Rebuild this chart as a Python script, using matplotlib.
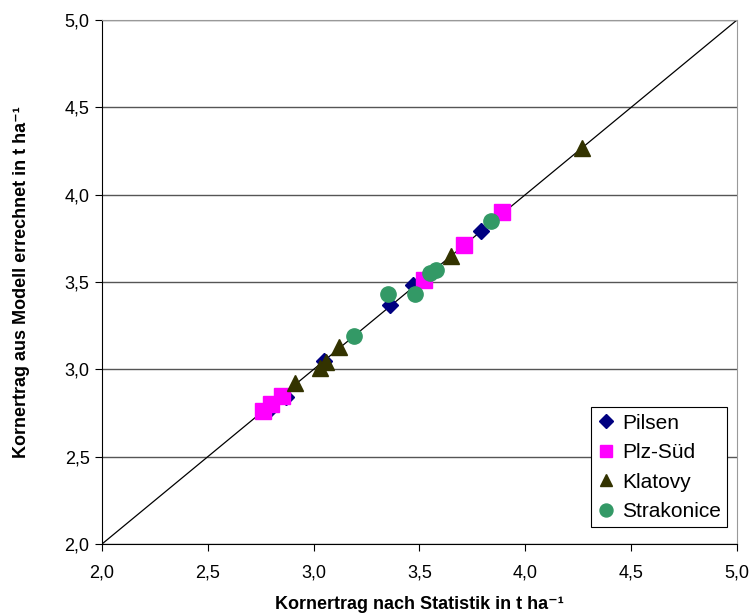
import matplotlib.pyplot as plt
from matplotlib.ticker import FuncFormatter

plt.rcParams['font.family'] = ['Liberation Sans', 'DejaVu Sans']

# values (statistic, model)
pilsen_x = [2.80, 2.87, 3.05, 3.36, 3.47, 3.79]
pilsen_y = [2.78, 2.84, 3.05, 3.37, 3.48, 3.79]
plz_x = [2.76, 2.80, 2.85, 3.52, 3.71, 3.89]
plz_y = [2.76, 2.80, 2.85, 3.51, 3.71, 3.90]
klat_x = [2.91, 3.03, 3.06, 3.12, 3.65, 4.27]
klat_y = [2.92, 3.01, 3.04, 3.13, 3.65, 4.27]
strak_x = [3.19, 3.35, 3.48, 3.55, 3.58, 3.84]
strak_y = [3.19, 3.43, 3.43, 3.55, 3.57, 3.85]

fig = plt.figure(figsize=(7.5, 6.14), dpi=100)
ax = fig.add_axes([102/750, 70/614, 635/750, 524/614])

ax.plot([2, 5], [2, 5], color='black', lw=0.9, zorder=2)
ax.plot(pilsen_x, pilsen_y, 'D', color='#000080', ms=8, ls='none', label='Pilsen', zorder=3)
ax.plot(plz_x, plz_y, 's', color='#FF00FF', ms=11, ls='none', label='Plz-Süd', zorder=3)
ax.plot(klat_x, klat_y, '^', color='#333300', ms=11, ls='none', label='Klatovy', zorder=3)
ax.plot(strak_x, strak_y, 'o', color='#339966', ms=11, ls='none', label='Strakonice', zorder=3)

ax.set_xlim(2, 5)
ax.set_ylim(2, 5)
ticks = [2.0, 2.5, 3.0, 3.5, 4.0, 4.5, 5.0]
ax.set_xticks(ticks)
ax.set_yticks(ticks)
fmt = FuncFormatter(lambda v, p: f'{v:.1f}'.replace('.', ','))
ax.xaxis.set_major_formatter(fmt)
ax.yaxis.set_major_formatter(fmt)
ax.tick_params(direction='out', length=5, labelsize=13)
ax.tick_params(axis='x', pad=10)
ax.tick_params(axis='y', pad=4)
ax.yaxis.grid(True, color='#555555', lw=1)
ax.set_axisbelow(True)
for s in ['top', 'right']:
    ax.spines[s].set_color('#999999')

ax.set_xlabel('Kornertrag nach Statistik in t ha⁻¹', fontsize=13, fontweight='bold')
ax.set_ylabel('Kornertrag aus Modell errechnet in t ha⁻¹', fontsize=13, fontweight='bold')
ax.xaxis.set_label_coords(0.5, -0.1)
ax.yaxis.set_label_coords(-0.113, 0.5)

leg = ax.legend(loc='lower right', bbox_to_anchor=(0.985, 0.032), fontsize=15, fancybox=False,
                edgecolor='black', framealpha=1, handletextpad=0.4, borderpad=0.3,
                labelspacing=0.5, numpoints=1, markerscale=0.85, handlelength=0.8,
                borderaxespad=0)
leg.get_frame().set_linewidth(0.8)

fig.savefig('out.png', dpi=100)
